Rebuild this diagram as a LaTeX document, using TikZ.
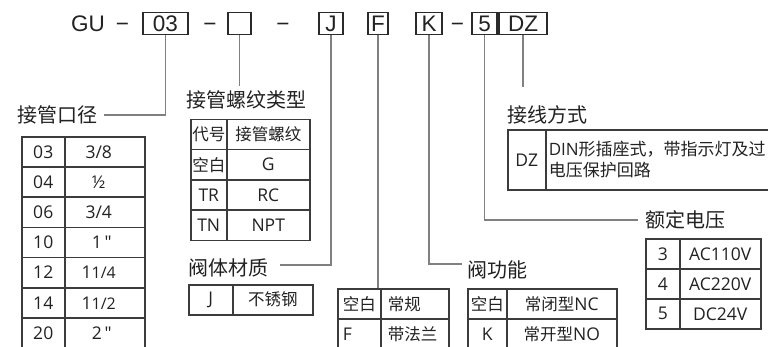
\documentclass[tikz,border=0pt]{standalone}
\usepackage{fontspec}
\setmainfont{Open Sans}
\newfontfamily\osq{Open Sans}
\newfontfamily\arl{Liberation Sans}
\newfontfamily\cjk{Noto Sans CJK SC}
\definecolor{txt}{HTML}{222222}
\definecolor{tb}{HTML}{3c3c3c}
\definecolor{cn}{HTML}{808080}
\definecolor{bx}{HTML}{2a2a2a}
\tikzset{
 codebox/.style={draw=bx, line width=1.4pt, inner sep=0pt, minimum height=21.5pt, font=\arl\fontsize{22.5}{22.5}\selectfont, text=txt},
 codetxt/.style={inner sep=0pt, anchor=base, font=\arl\fontsize{22.5}{22.5}\selectfont, text=txt},
 conn/.style={draw=cn, line width=1.1pt},
 ttl/.style={inner sep=0pt, font=\cjk\fontsize{20}{20}\selectfont, text=txt},
 cell/.style={draw=tb, line width=1.5pt, inner sep=0pt, anchor=north west, font=\fontsize{17.5}{17.5}\selectfont, text=txt},
 lcell/.style={cell, align=left},
}
\newcommand\zh[1]{{\cjk\fontsize{16.5}{16.5}\selectfont #1}}
\newcommand\qt{{\osq"}}
\newcommand\cl[6]{\node[cell, minimum width=#4pt, minimum height=#5pt] (#1) at (#2,#3) {#6};}
\begin{document}
\begin{tikzpicture}[x=1pt,y=-1pt]
\useasboundingbox (0,0) rectangle (768,346);
\fill[white] (0,0) rectangle (768,346);
\clip (0,0) rectangle (768,346);

% code line
\node[codetxt] (gu) at (88,31.5) {GU};
\node[codetxt] (d1) at (122.5,31.5) {−};
\node[codebox, minimum width=45pt] (b03) at (165.5,23.5) {03};
\node[codetxt] (d2) at (210,31.5) {−};
\node[codebox, minimum width=23pt] (bE) at (239.5,23.5) {};
\node[codetxt] (d3) at (283,31.5) {−};
\node[codebox, minimum width=24pt] (bJ) at (331,23.5) {J};
\node[codebox, minimum width=20pt] (bF) at (378,23.5) {F};
\node[codebox, minimum width=26pt] (bK) at (429,23.5) {K};
\node[codetxt] (d4) at (457.5,31.5) {−};
\node[codebox, minimum width=25pt] (b5) at (484.5,23.5) {5};
\node[codebox, minimum width=48pt] (bDZ) at (523,23.5) {DZ};

% titles
\node[ttl, anchor=east] (t1) at (98,115) {接管口径};
\node[ttl] (t2) at (246,100) {接管螺纹类型};
\node[ttl] (t3) at (228.5,268) {阀体材质};
\node[ttl] (t4) at (497,270) {阀功能};
\node[ttl] (t5) at (685,220) {额定电压};
\node[ttl] (t6) at (547.5,115) {接线方式};

% connector ends
\coordinate (e1) at (104,115);
\coordinate (e2) at (239.5,86);
\coordinate (e3) at (280,265);
\coordinate (e4) at (462,264);
\coordinate (e5) at (638,220);
\coordinate (e6) at (523,87);

% left table
\cl{La1}{21}{136}{43}{30.2}{03}   \cl{Lb1}{64}{136}{80}{30.2}{\kern-12pt 3/8}
\cl{La2}{21}{166.2}{43}{30.2}{04} \cl{Lb2}{64}{166.2}{80}{30.2}{\kern-12pt ½}
\cl{La3}{21}{196.4}{43}{30.2}{06} \cl{Lb3}{64}{196.4}{80}{30.2}{\kern-12pt 3/4}
\cl{La4}{21}{226.6}{43}{30.2}{10} \cl{Lb4}{64}{226.6}{80}{30.2}{\kern-6pt 1\,\qt}
\cl{La5}{21}{256.8}{43}{30.2}{12} \cl{Lb5}{64}{256.8}{80}{30.2}{\kern-12pt 1{\fontsize{16}{16}\selectfont 1/4}}
\cl{La6}{21}{287}{43}{30.2}{14}   \cl{Lb6}{64}{287}{80}{30.2}{\kern-12pt 1{\fontsize{16}{16}\selectfont 1/2}}
\cl{La7}{21}{317.2}{43}{30.2}{20} \cl{Lb7}{64}{317.2}{80}{30.2}{\kern-6pt 2\,\qt}

% thread table
\cl{Ma1}{190}{118.5}{36}{30.3}{\zh{代号}} \cl{Mb1}{226}{118.5}{83}{30.3}{\zh{接管螺纹}}
\cl{Ma2}{190}{148.8}{36}{30.3}{\zh{空白}} \cl{Mb2}{226}{148.8}{83}{30.3}{G}
\cl{Ma3}{190}{179.1}{36}{30.3}{TR}      \cl{Mb3}{226}{179.1}{83}{30.3}{RC}
\cl{Ma4}{190}{209.4}{36}{30.3}{TN}      \cl{Mb4}{226}{209.4}{83}{30.3}{NPT}

% material table
\cl{Ja}{188}{284}{44}{30}{J} \cl{Jb}{232}{284}{80}{30}{\zh{不锈钢}}

% flange table
\node[lcell, minimum width=43pt, minimum height=30pt, text width=33pt, inner xsep=5pt] (Fa) at (337,288) {\zh{空白}};
\node[lcell, minimum width=68pt, minimum height=30pt, text width=54pt, inner xsep=7pt] (Fb) at (380,288) {\zh{常规}};
\node[lcell, minimum width=43pt, minimum height=30pt, text width=33pt, inner xsep=5pt] (Fc) at (337,318) {F};
\node[lcell, minimum width=68pt, minimum height=30pt, text width=54pt, inner xsep=7pt] (Fd) at (380,318) {\zh{带法兰}};

% function table
\cl{Ka}{467}{288}{39}{30}{\zh{空白}} \cl{Kb}{506}{288}{110}{30}{\zh{常闭型}NC}
\cl{Kc}{467}{318}{39}{30}{K}        \cl{Kd}{506}{318}{110}{30}{\zh{常开型}NO}

% voltage table
\cl{Va}{645}{238}{34}{30}{3} \cl{Vb}{679}{238}{81}{30}{AC110V}
\cl{Vc}{645}{268}{34}{30}{4} \cl{Vd}{679}{268}{81}{30}{AC220V}
\cl{Ve}{645}{298}{34}{30}{5} \cl{Vf}{679}{298}{81}{30}{DC24V}

% wiring table
\cl{Da}{507}{129}{38}{60}{DZ}
\node[lcell, minimum width=260pt, minimum height=60pt, text width=254pt, inner xsep=3pt,
      font=\cjk\fontsize{17}{21}\selectfont] (Db) at (545,129)
      {{\rmfamily DIN}形插座式，带指示灯及过\\电压保护回路};

% connectors
\draw[conn] (b03.south) |- (e1);
\draw[conn] (bE.south) -- (e2);
\draw[conn] (bJ.south) |- (e3);
\draw[conn] (bF.south) -- (bF.south |- Fa.north);
\draw[conn] (bK.south) |- (e4);
\draw[conn] (b5.south) |- (e5);
\draw[conn] (bDZ.south) -- (e6);
\end{tikzpicture}
\end{document}
